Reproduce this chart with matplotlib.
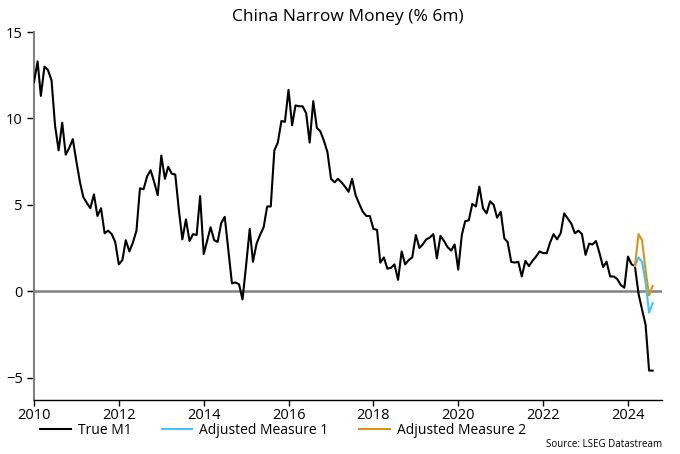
import matplotlib
matplotlib.use("Agg")
import matplotlib.pyplot as plt
import matplotlib.dates as mdates
import pandas as pd
import numpy as np

plt.rcParams['font.family'] = ['Open Sans', 'DejaVu Sans']

true_m1 = [
    12.1, 13.3, 11.3, 13.0, 12.8, 12.2, 9.6, 8.15, 9.75, 7.9, 8.3, 8.8,      # 2010
    7.5, 6.3, 5.45, 5.1, 4.8, 5.6, 4.35, 4.8, 3.35, 3.5, 3.3, 2.85,          # 2011
    1.55, 1.8, 2.95, 2.3, 2.8, 3.5, 5.95, 5.9, 6.65, 7.0, 6.3, 5.55,         # 2012
    7.85, 6.5, 7.2, 6.8, 6.75, 4.7, 3.0, 4.15, 2.9, 3.3, 3.25, 5.5,          # 2013
    2.15, 2.95, 3.7, 2.95, 2.85, 3.95, 4.3, 2.35, 0.45, 0.5, 0.4, -0.48,     # 2014
    1.5, 3.6, 1.7, 2.75, 3.25, 3.7, 4.9, 4.9, 8.15, 8.6, 9.85, 9.8,          # 2015
    11.65, 9.6, 10.75, 10.7, 10.7, 10.3, 8.6, 11.0, 9.45, 9.25, 8.7, 8.05,   # 2016
    6.5, 6.3, 6.5, 6.3, 6.05, 5.75, 6.5, 5.55, 5.05, 4.6, 4.35, 4.35,        # 2017
    3.6, 3.55, 1.65, 1.95, 1.3, 1.35, 1.55, 0.65, 2.3, 1.55, 1.8, 1.95,      # 2018
    3.25, 2.5, 2.7, 3.0, 3.1, 3.3, 1.9, 3.2, 2.9, 2.55, 2.35, 2.7,           # 2019
    1.25, 3.25, 4.05, 4.1, 5.05, 4.9, 6.05, 4.8, 4.5, 5.2, 5.0, 4.25,        # 2020
    4.6, 3.05, 2.85, 1.7, 1.65, 1.7, 0.85, 1.75, 1.45, 1.75, 2.0, 2.3,       # 2021
    2.2, 2.2, 2.8, 3.3, 3.0, 3.35, 4.5, 4.2, 3.9, 3.35, 3.5, 3.3,            # 2022
    2.1, 2.75, 2.7, 2.9, 2.2, 1.4, 1.7, 0.85, 0.85, 0.7, 0.35, 0.2,          # 2023
    2.0, 1.55, 1.45, -0.15, -1.05, -1.95, -4.6, -4.6,                        # 2024
]
adj_start = "2024-03-01"
adjusted_1 = [1.45, 1.95, 1.7, 0.5, -1.25, -0.7]
adjusted_2 = [1.45, 3.3, 2.95, 1.2, -0.25, 0.3]

yticks = [-5, 0, 5, 10, 15]
xtick_years = list(range(2010, 2025, 2))

dates = pd.date_range("2010-01-01", periods=len(true_m1), freq="MS")
adj_dates = pd.date_range(adj_start, periods=len(adjusted_1), freq="MS")

fig = plt.figure(figsize=(6.8, 4.54), dpi=100)
ax = fig.add_axes([0.05, 0.119, 0.9235, 0.8105])

ax.axhline(0, color="#808080", lw=1.8, zorder=1)
ax.plot(dates, true_m1, color="black", lw=1.5, label="True M1", zorder=3)
ax.plot(adj_dates, adjusted_1, color="#45c0ff", lw=1.5, label="Adjusted Measure 1", zorder=4)
ax.plot(adj_dates, adjusted_2, color="#d4961a", lw=1.5, label="Adjusted Measure 2", zorder=5)

ax.set_ylim(-6.3, 15)
ax.set_xlim(pd.Timestamp("2010-01-01"), pd.Timestamp("2024-10-20"))
ax.set_yticks(yticks)
ax.set_xticks([pd.Timestamp(f"{y}-01-01") for y in xtick_years])
ax.xaxis.set_major_formatter(mdates.DateFormatter("%Y"))

for s in ["top", "right"]:
    ax.spines[s].set_visible(False)
ax.spines["left"].set_color("#808080")
ax.spines["left"].set_linewidth(1.5)
ax.spines["bottom"].set_color("black")
ax.spines["bottom"].set_linewidth(1.0)
ax.tick_params(axis="y", length=5, width=1, color="black", labelsize=10.5, pad=3)
ax.tick_params(axis="x", length=4, width=1, color="black", labelsize=10.5, pad=2)

ax.set_title("China Narrow Money (% 6m)", fontsize=12.5, pad=8)

fig.legend(loc="center left", bbox_to_anchor=(0.059, 0.052), ncol=3, frameon=False,
           fontsize=10, handlelength=2.2, handletextpad=0.5, columnspacing=2.2,
           borderaxespad=0, borderpad=0)

fig.text(0.974, 0.022, "Source: LSEG Datastream", ha="right", va="center", fontsize=7)

fig.savefig("out.png", dpi=100)
